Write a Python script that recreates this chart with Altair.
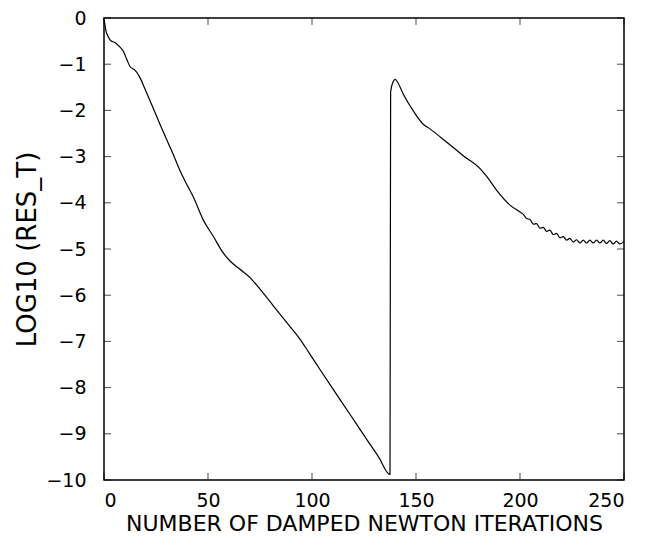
import altair as alt
import pandas as pd

# Curve data
iters = [0, 1, 2, 3, 4, 5.3, 7, 9.3, 11, 12.5, 14.9, 17.3, 20, 22.9, 26.9, 30, 32.5,
         36.5, 40, 42.9, 47.7, 52.6, 57.4, 60.6, 65.4, 70.2, 75, 81.4, 87.8, 94.2,
         98.2, 104, 110.2, 118, 126.3, 132, 137.5,
         137.8, 139, 140, 141, 143.9, 148.7, 153.5, 156.7, 164.8, 172.7, 180.8, 184,
         188.8, 195.2, 200,
         201.6, 203.2, 204.8, 206.4, 208, 209.6, 211.2, 212.8, 214.4, 216, 217.6,
         219.2, 220.8, 222.4, 224, 225.6, 227.2, 228.8, 230.4, 232, 233.6, 235.2,
         236.8, 238.4, 240, 241.6, 243.2, 244.8, 246.4, 248, 250]
log_res = [0, -0.29, -0.40, -0.48, -0.51, -0.53, -0.60, -0.72, -0.90, -1.05, -1.13,
           -1.29, -1.57, -1.87, -2.30, -2.62, -2.87,
           -3.30, -3.62, -3.87, -4.37, -4.73, -5.09, -5.26, -5.44, -5.62, -5.87,
           -6.23, -6.59, -6.95, -7.22, -7.62, -8.04, -8.56, -9.12, -9.50, -9.88,
           -1.60, -1.38, -1.33, -1.38, -1.65, -2.01, -2.30, -2.40, -2.69, -2.98,
           -3.26, -3.43, -3.73, -4.05, -4.20,
           -4.25, -4.34, -4.36, -4.46, -4.45, -4.55, -4.53, -4.62, -4.59, -4.69,
           -4.66, -4.76, -4.73, -4.81, -4.77, -4.85, -4.80, -4.87, -4.81, -4.87,
           -4.81, -4.87, -4.81, -4.87, -4.81, -4.88, -4.82, -4.89, -4.83, -4.89,
           -4.84]

x_ticks = [0, 50, 100, 150, 200, 250]
y_ticks = [0, -1, -2, -3, -4, -5, -6, -7, -8, -9, -10]

W, H = 520, 462
FONT = "DejaVu Sans"

df = pd.DataFrame({"it": iters, "r": log_res})
dfx = pd.DataFrame({"t": x_ticks})
dfy = pd.DataFrame({"t": y_ticks})

xscale = alt.Scale(domain=[0, 250], nice=False, zero=False)
yscale = alt.Scale(domain=[-10, 0], nice=False, zero=False)

line = alt.Chart(df).mark_line(color="black", strokeWidth=1.2, interpolate="monotone").encode(
    x=alt.X("it:Q", scale=xscale,
            axis=alt.Axis(values=x_ticks, title="NUMBER OF DAMPED NEWTON ITERATIONS",
                          grid=False, domain=False, ticks=False, tickSize=0,
                          labelFont=FONT, labelFontSize=19, labelColor="black",
                          labelPadding=11, labelFlush=True,
                          titleFont=FONT, titleFontSize=22, titleFontWeight="normal",
                          titleColor="black", titlePadding=3)),
    y=alt.Y("r:Q", scale=yscale,
            axis=alt.Axis(values=y_ticks, title="LOG10 (RES_T)", format="d",
                          grid=False, domain=False, ticks=False, tickSize=0,
                          labelFont=FONT, labelFontSize=19, labelColor="black",
                          labelPadding=18,
                          titleFont=FONT, titleFontSize=26, titleFontWeight="normal",
                          titleColor="black", titlePadding=5)),
)

tick_len = 7
bottom = alt.Chart(dfx).mark_tick(orient="vertical", size=tick_len, thickness=1,
                                  color="black", yOffset=-tick_len / 2).encode(
    x=alt.X("t:Q", scale=xscale), y=alt.value(H))
top = alt.Chart(dfx).mark_tick(orient="vertical", size=tick_len, thickness=1,
                               color="black", yOffset=tick_len / 2).encode(
    x=alt.X("t:Q", scale=xscale), y=alt.value(0))
left = alt.Chart(dfy).mark_tick(orient="horizontal", size=tick_len, thickness=1,
                                color="black", xOffset=tick_len / 2).encode(
    y=alt.Y("t:Q", scale=yscale), x=alt.value(0))
right = alt.Chart(dfy).mark_tick(orient="horizontal", size=tick_len, thickness=1,
                                 color="black", xOffset=-tick_len / 2).encode(
    y=alt.Y("t:Q", scale=yscale), x=alt.value(W))

chart = alt.layer(line, bottom, top, left, right).properties(
    width=W, height=H,
    autosize=alt.AutoSizeParams(type="none"),
    padding={"left": 96, "top": 10, "right": 14, "bottom": 58},
    background="white",
).configure_view(stroke="black", strokeWidth=1.5)

chart.save("out.html", embed_options={"renderer": "svg", "actions": False})
